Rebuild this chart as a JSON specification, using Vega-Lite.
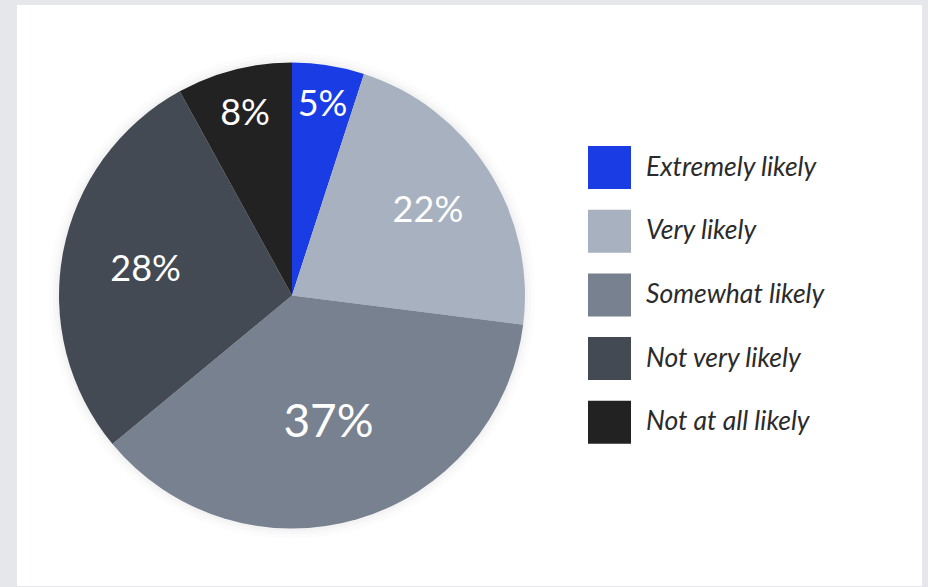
{
  "$schema": "https://vega.github.io/schema/vega-lite/v6.json",
  "background": "#e5e7eb",
  "padding": {"left": 17, "top": 5, "right": 6, "bottom": 1},
  "spacing": 0,
  "bounds": "flush",
  "config": {
    "view": {"fill": "#ffffff", "stroke": null},
    "font": "Lato"
  },
  "hconcat": [
    {
      "width": 550,
      "height": 581,
      "view": {"fill": "#ffffff", "stroke": null},
      "data": {
        "values": [
          {"rank": 1, "category": "Extremely likely", "value": 0.05},
          {"rank": 2, "category": "Very likely", "value": 0.22},
          {"rank": 3, "category": "Somewhat likely", "value": 0.37},
          {"rank": 4, "category": "Not very likely", "value": 0.28},
          {"rank": 5, "category": "Not at all likely", "value": 0.08}
        ]
      },
      "encoding": {
        "theta": {"field": "value", "type": "quantitative", "stack": true},
        "order": {"field": "rank", "type": "quantitative", "sort": "ascending"}
      },
      "layer": [
        {"mark": {"type": "arc", "outerRadius": 243, "fill": "#000000", "fillOpacity": 0.012, "stroke": null}},
        {"mark": {"type": "arc", "outerRadius": 239, "fill": "#000000", "fillOpacity": 0.015, "stroke": null}},
        {"mark": {"type": "arc", "outerRadius": 236, "fill": "#000000", "fillOpacity": 0.02, "stroke": null}},
        {
          "mark": {"type": "arc", "outerRadius": 233, "stroke": null},
          "encoding": {
            "color": {
              "field": "category",
              "type": "nominal",
              "sort": ["Extremely likely", "Very likely", "Somewhat likely", "Not very likely", "Not at all likely"],
              "scale": {
                "domain": ["Extremely likely", "Very likely", "Somewhat likely", "Not very likely", "Not at all likely"],
                "range": ["#1a3ce4", "#a7b1bf", "#78818f", "#434a54", "#222222"]
              },
              "legend": {
                "title": null,
                "orient": "none",
                "legendX": 571,
                "legendY": 141,
                "symbolType": "square",
                "symbolSize": 1849,
                "symbolStrokeWidth": 0,
                "symbolOpacity": 1,
                "labelFont": "Lato",
                "labelFontStyle": "italic",
                "labelFontSize": 26.5,
                "labelColor": "#2b2b2b",
                "labelOffset": 15,
                "rowPadding": 20.7,
                "labelLimit": 400
              }
            }
          }
        },
        {
          "mark": {"type": "text", "font": "Lato", "color": "#ffffff", "baseline": "middle", "align": "center", "dy": 2},
          "encoding": {
            "text": {"field": "value", "type": "quantitative", "format": ".0%"},
            "radius": {"field": "value", "type": "quantitative", "scale": {"type": "linear", "domain": [0.05, 0.37], "range": [195, 131], "zero": false}},
            "size": {"condition": {"test": "datum.value >= 0.3", "value": 46}, "value": 36},
            "color": {"value": "#ffffff"}
          }
        }
      ]
    },
    {
      "width": 355,
      "height": 581,
      "view": {"fill": "#ffffff", "stroke": null},
      "data": {"values": []},
      "mark": "rect",
      "encoding": {}
    }
  ]
}
